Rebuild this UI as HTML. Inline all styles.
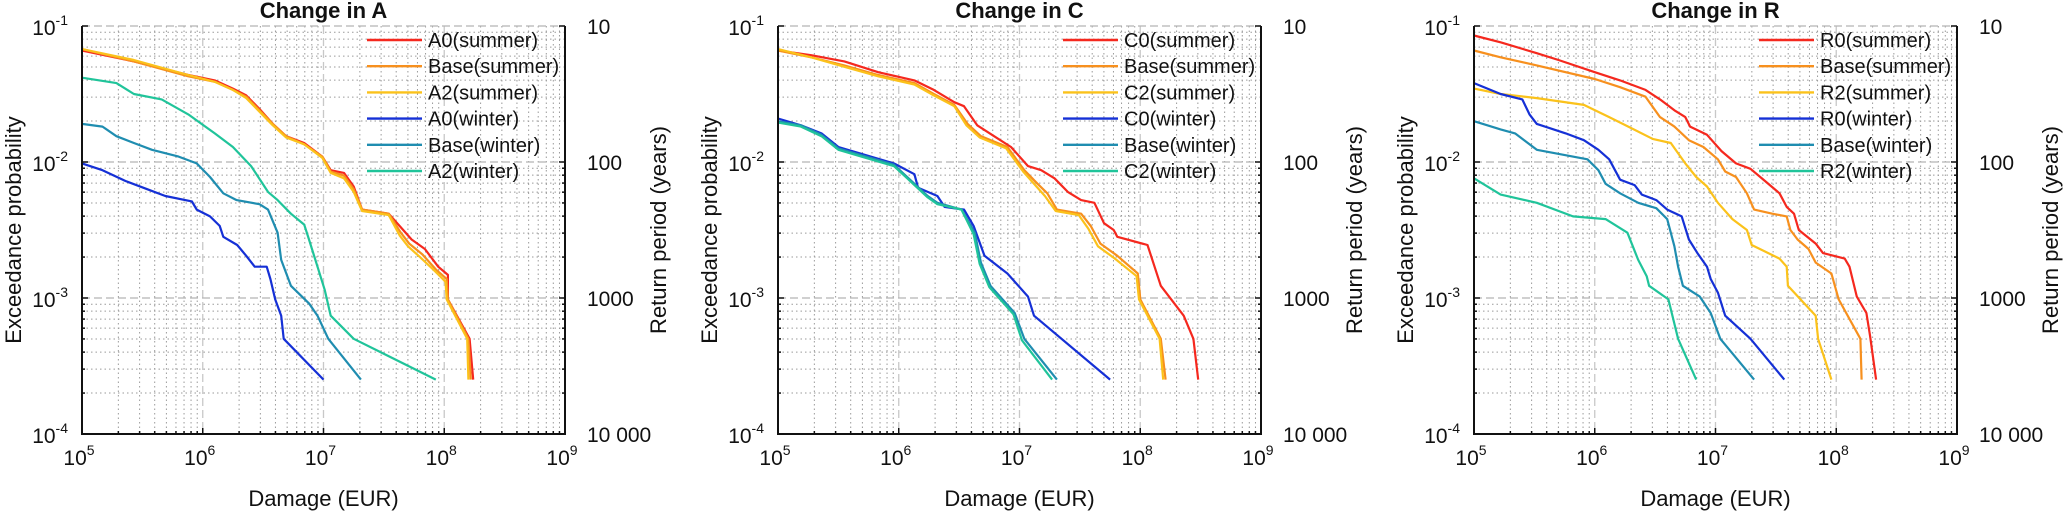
<!DOCTYPE html>
<html><head><meta charset="utf-8"><style>
html,body{margin:0;padding:0;background:#fff;}
svg{display:block;font-family:"Liberation Sans",Arial,sans-serif;}
</style></head><body>
<svg id="chart" width="2067" height="513" viewBox="0 0 2067 513" xmlns="http://www.w3.org/2000/svg"></svg>
<script>
// ---- Data (log10 damage EUR, log10 exceedance probability) ----
const panelTitles = ["Change in A", "Change in C", "Change in R"];
const xTickExps = [5, 6, 7, 8, 9];
const yTickExps = [-1, -2, -3, -4];
const returnLabels = ["10", "100", "1000", "10 000"];
const seriesColors = ["#f5281e", "#f7901e", "#fbc21b", "#1530d6", "#1f8db0", "#20c49a"];
const legendA = ["A0(summer)", "Base(summer)", "A2(summer)", "A0(winter)", "Base(winter)", "A2(winter)"];
const legendC = ["C0(summer)", "Base(summer)", "C2(summer)", "C0(winter)", "Base(winter)", "C2(winter)"];
const legendR = ["R0(summer)", "Base(summer)", "R2(summer)", "R0(winter)", "Base(winter)", "R2(winter)"];

// Panel A
const aS0x = [5,5.43,5.88,6.1,6.25,6.36,6.47,6.58,6.69,6.84,6.99,7.06,7.17,7.25,7.32,7.54,7.66,7.73,7.84,7.95,8.03,8.03,8.21,8.24];
const aS0y = [-1.18,-1.26,-1.36,-1.40,-1.46,-1.51,-1.61,-1.72,-1.81,-1.86,-1.96,-2.06,-2.08,-2.18,-2.35,-2.38,-2.50,-2.57,-2.64,-2.77,-2.83,-3.01,-3.30,-3.60];
const aSBx = [5,5.43,5.88,6.1,6.25,6.36,6.47,6.58,6.69,6.84,6.99,7.06,7.17,7.25,7.32,7.54,7.64,7.71,7.82,7.93,8.02,8.03,8.20,8.22];
const aSBy = [-1.17,-1.26,-1.37,-1.41,-1.47,-1.52,-1.62,-1.72,-1.81,-1.87,-1.96,-2.07,-2.10,-2.20,-2.35,-2.38,-2.52,-2.60,-2.68,-2.79,-2.86,-3.01,-3.30,-3.60];
const aS2x = [5,5.43,5.88,6.1,6.25,6.36,6.47,6.58,6.69,6.84,6.99,7.06,7.17,7.25,7.32,7.54,7.63,7.70,7.80,7.92,8.01,8.02,8.19,8.20];
const aS2y = [-1.17,-1.25,-1.36,-1.41,-1.47,-1.53,-1.63,-1.73,-1.82,-1.87,-1.97,-2.08,-2.12,-2.22,-2.36,-2.39,-2.54,-2.62,-2.70,-2.80,-2.88,-3.01,-3.30,-3.60];
const aW0x = [5,5.17,5.36,5.54,5.69,5.91,5.95,6.06,6.14,6.17,6.285,6.36,6.43,6.53,6.56,6.60,6.65,6.67,7.0];
const aW0y = [-2.01,-2.06,-2.14,-2.20,-2.25,-2.29,-2.35,-2.40,-2.47,-2.55,-2.61,-2.69,-2.77,-2.77,-2.86,-3.01,-3.13,-3.30,-3.60];
const aWBx = [5,5.17,5.285,5.43,5.58,5.80,5.95,6.06,6.17,6.28,6.47,6.54,6.62,6.65,6.73,6.88,6.95,7.04,7.31];
const aWBy = [-1.72,-1.74,-1.81,-1.86,-1.91,-1.96,-2.01,-2.11,-2.23,-2.28,-2.31,-2.35,-2.52,-2.72,-2.91,-3.04,-3.13,-3.30,-3.60];
const aW2x = [5,5.285,5.43,5.66,5.88,6.1,6.25,6.40,6.54,6.62,6.73,6.84,6.88,6.95,7.01,7.06,7.25,7.93];
const aW2y = [-1.38,-1.42,-1.50,-1.54,-1.65,-1.79,-1.89,-2.03,-2.22,-2.28,-2.38,-2.46,-2.57,-2.77,-2.94,-3.13,-3.30,-3.60];

// Panel C
const cS0x = [5,5.275,5.55,5.83,6.13,6.29,6.46,6.54,6.65,6.79,6.93,7.07,7.18,7.29,7.40,7.51,7.62,7.70,7.78,7.81,8.06,8.17,8.36,8.44,8.48];
const cS0y = [-1.18,-1.215,-1.26,-1.34,-1.40,-1.47,-1.56,-1.59,-1.73,-1.81,-1.89,-2.03,-2.06,-2.12,-2.22,-2.28,-2.30,-2.45,-2.50,-2.55,-2.61,-2.91,-3.13,-3.30,-3.60];
const cSBx = [5,5.275,5.55,5.83,6.13,6.29,6.46,6.57,6.68,6.90,7.04,7.15,7.23,7.31,7.51,7.59,7.67,7.81,7.98,8.00,8.17,8.21];
const cSBy = [-1.18,-1.23,-1.29,-1.36,-1.42,-1.50,-1.58,-1.72,-1.81,-1.89,-2.06,-2.16,-2.23,-2.35,-2.38,-2.47,-2.60,-2.69,-2.82,-3.01,-3.30,-3.60];
const cS2x = [5,5.275,5.55,5.83,6.13,6.29,6.46,6.56,6.67,6.89,7.03,7.13,7.21,7.30,7.49,7.57,7.65,7.79,7.97,7.99,8.16,8.19];
const cS2y = [-1.17,-1.23,-1.30,-1.37,-1.43,-1.51,-1.59,-1.73,-1.82,-1.90,-2.07,-2.17,-2.25,-2.36,-2.39,-2.49,-2.62,-2.71,-2.84,-3.01,-3.30,-3.60];
const cW0x = [5,5.19,5.36,5.50,5.69,5.96,6.13,6.16,6.32,6.38,6.54,6.62,6.71,6.90,7.07,7.12,7.75];
const cW0y = [-1.68,-1.73,-1.79,-1.89,-1.94,-2.01,-2.09,-2.19,-2.25,-2.33,-2.35,-2.47,-2.69,-2.82,-2.99,-3.13,-3.60];
const cWBx = [5,5.19,5.36,5.50,5.69,5.96,6.07,6.24,6.32,6.52,6.63,6.68,6.76,6.96,7.04,7.31];
const cWBy = [-1.70,-1.73,-1.80,-1.90,-1.95,-2.02,-2.11,-2.25,-2.30,-2.35,-2.52,-2.74,-2.91,-3.11,-3.30,-3.60];
const cW2x = [5,5.19,5.36,5.50,5.69,5.96,6.07,6.24,6.32,6.52,6.62,6.67,6.75,6.95,7.02,7.27];
const cW2y = [-1.71,-1.74,-1.81,-1.91,-1.96,-2.03,-2.12,-2.26,-2.31,-2.35,-2.53,-2.75,-2.92,-3.12,-3.31,-3.60];

// Panel R
const rS0x = [5.0,5.22,5.52,5.70,6.0,6.21,6.42,6.54,6.66,6.75,6.79,6.93,7.05,7.17,7.29,7.41,7.53,7.59,7.65,7.69,7.83,7.89,8.07,8.11,8.17,8.25,8.28,8.33];
const rS0y = [-1.07,-1.12,-1.20,-1.25,-1.34,-1.40,-1.47,-1.54,-1.62,-1.67,-1.74,-1.80,-1.92,-2.01,-2.05,-2.14,-2.23,-2.33,-2.38,-2.50,-2.60,-2.67,-2.71,-2.77,-2.99,-3.11,-3.28,-3.60];
const rSBx = [5.0,5.22,5.52,6.0,6.21,6.42,6.54,6.66,6.78,6.90,7.02,7.08,7.17,7.26,7.32,7.47,7.59,7.62,7.68,7.77,7.83,7.96,8.02,8.20,8.21];
const rSBy = [-1.18,-1.23,-1.29,-1.39,-1.45,-1.52,-1.67,-1.74,-1.84,-1.89,-1.98,-2.07,-2.11,-2.23,-2.35,-2.38,-2.40,-2.50,-2.57,-2.64,-2.74,-2.82,-3.01,-3.30,-3.60];
const rS2x = [5.0,5.22,5.52,5.91,6.12,6.30,6.48,6.63,6.75,6.84,6.93,7.02,7.14,7.26,7.30,7.53,7.59,7.60,7.83,7.85,7.96];
const rS2y = [-1.46,-1.50,-1.53,-1.58,-1.67,-1.75,-1.83,-1.86,-2.01,-2.11,-2.18,-2.30,-2.42,-2.50,-2.61,-2.71,-2.77,-2.91,-3.13,-3.30,-3.60];
const rW0x = [5.0,5.22,5.40,5.46,5.52,5.76,5.91,6.03,6.12,6.21,6.33,6.39,6.51,6.60,6.72,6.78,6.85,6.93,6.96,7.02,7.08,7.29,7.57];
const rW0y = [-1.42,-1.50,-1.54,-1.65,-1.72,-1.79,-1.84,-1.91,-1.98,-2.13,-2.17,-2.24,-2.28,-2.35,-2.40,-2.57,-2.67,-2.77,-2.86,-2.96,-3.13,-3.30,-3.60];
const rWBx = [5.0,5.22,5.34,5.52,5.94,6.03,6.09,6.21,6.36,6.51,6.60,6.66,6.69,6.73,6.87,6.96,7.04,7.32];
const rWBy = [-1.70,-1.76,-1.79,-1.91,-1.98,-2.06,-2.16,-2.23,-2.30,-2.34,-2.42,-2.62,-2.77,-2.91,-2.99,-3.11,-3.30,-3.60];
const rW2x = [5.0,5.22,5.52,5.82,6.09,6.27,6.36,6.43,6.45,6.61,6.69,6.84];
const rW2y = [-2.12,-2.24,-2.30,-2.40,-2.42,-2.52,-2.72,-2.84,-2.91,-3.01,-3.30,-3.60];

const panels = [
  {left:82, title:panelTitles[0], legend:legendA, xs:[aS0x,aSBx,aS2x,aW0x,aWBx,aW2x], ys:[aS0y,aSBy,aS2y,aW0y,aWBy,aW2y]},
  {left:778, title:panelTitles[1], legend:legendC, xs:[cS0x,cSBx,cS2x,cW0x,cWBx,cW2x], ys:[cS0y,cSBy,cS2y,cW0y,cWBy,cW2y]},
  {left:1474, title:panelTitles[2], legend:legendR, xs:[rS0x,rSBx,rS2x,rW0x,rWBx,rW2x], ys:[rS0y,rSBy,rS2y,rW0y,rWBy,rW2y]}
];

const NS = "http://www.w3.org/2000/svg";
const svg = document.getElementById("chart");
const W = 483, TOP = 26, BOT = 434, H = BOT - TOP;
function mk(tag, attrs, parent){const e=document.createElementNS(NS,tag);for(const k in attrs)e.setAttribute(k,attrs[k]);(parent||svg).appendChild(e);return e;}

panels.forEach((p, pi) => {
  const L = p.left, R = L + W;
  const xs = v => L + (v - 5) / 4 * W;
  const ys = v => TOP + (-1 - v) / 3 * H;
  const g = mk("g", {});
  
  
  // minor grid
  const grid = mk("g", {}, g);
  
  
  for (let d = 5; d < 9; d++) for (let m = 2; m <= 9; m++) {
    const x = xs(d + Math.log10(m));
    mk("line", {x1:x, y1:TOP, x2:x, y2:BOT, stroke:"#9a9a9a", "stroke-width":1, "stroke-dasharray":"1.5,3"}, grid);
  }
  for (let d = -2; d >= -4; d--) for (let m = 2; m <= 9; m++) {
    const y = ys(d + Math.log10(m));
    mk("line", {x1:L, y1:y, x2:R, y2:y, stroke:"#9a9a9a", "stroke-width":1, "stroke-dasharray":"1.5,3"}, grid);
  }
  xTickExps.forEach(e => { if (e>5 && e<9) mk("line", {x1:xs(e), y1:TOP, x2:xs(e), y2:BOT, stroke:"#c8c8c8", "stroke-width":1.3, "stroke-dasharray":"8,4"}, grid); });
  yTickExps.forEach(e => { if (e>-4) mk("line", {x1:L, y1:ys(e), x2:R, y2:ys(e), stroke:"#b5b5b5", "stroke-width":1.3, "stroke-dasharray":"8,4"}, grid); });
  // series
  p.xs.forEach((sx, si) => {
    const pts = sx.map((v, i) => xs(v).toFixed(1) + "," + ys(p.ys[si][i]).toFixed(1)).join(" ");
    const pl = mk("polyline", {points:pts, fill:"none", stroke:seriesColors[si], "stroke-width":2.2, "stroke-linejoin":"round"}, g);
    
    
  });
  // axes
  const ax = mk("g", {}, g);
  
  
  mk("path", {d:`M${L},${TOP}V${BOT}H${R}V${TOP}`, fill:"none", stroke:"#111", "stroke-width":2}, ax);
  for (let d = 5; d < 9; d++) for (let m = 1; m <= 9; m++) {
    const x = xs(d + Math.log10(m)); const len = m===1?6:3;
    mk("line", {x1:x, y1:BOT, x2:x, y2:BOT-len, stroke:"#111", "stroke-width":1.5}, ax);
  }
  for (let d = -1; d >= -4; d--) for (let m = 1; m <= 9; m++) {
    if (d===-1 && m>1) continue;
    const y = ys(d - 1 + Math.log10(m) + (m===1?1:0));
    const yy = m===1 ? ys(d) : ys(d-1+Math.log10(m));
    if (d===-4 && m>1) continue;
    const len = m===1?6:3;
    mk("line", {x1:L, y1:yy, x2:L+len, y2:yy, stroke:"#111", "stroke-width":1.5}, ax);
    mk("line", {x1:R, y1:yy, x2:R-len, y2:yy, stroke:"#111", "stroke-width":1.5}, ax);
  }
  // x tick labels
  xTickExps.forEach(e => {
    const t = mk("text", {x:xs(e)-3, y:465, "font-size":21, "text-anchor":"middle", fill:"#111"}, g);
    
    
    t.textContent = "10";
    const s = mk("tspan", {dy:-10, "font-size":14}, t); s.textContent = String(e);
  });
  // y tick labels
  yTickExps.forEach(e => {
    const t = mk("text", {x:L-14, y:ys(e)+9, "font-size":21, "text-anchor":"end", fill:"#111"}, g);
    
    
    t.textContent = "10";
    const s = mk("tspan", {dy:-10, "font-size":14}, t); s.textContent = String(e);
  });
  // right labels
  returnLabels.forEach((lab, i) => {
    const t = mk("text", {x:R+22, y:ys(yTickExps[i])+8, "font-size":21, fill:"#111"}, g);
    
    
    t.textContent = lab;
  });
  // titles
  const tt = mk("text", {x:L+W/2, y:18, "font-size":22, "font-weight":"bold", "text-anchor":"middle", fill:"#111"}, g);
  
  
  tt.textContent = p.title;
  const xt = mk("text", {x:L+W/2, y:506, "font-size":22, "text-anchor":"middle", fill:"#111"}, g);
  
  
  xt.textContent = "Damage (EUR)";
  const yt = mk("text", {x:0, y:0, "font-size":22, "text-anchor":"middle", fill:"#111", transform:`translate(${L-61},${TOP+H/2}) rotate(-90)`}, g);
  
  
  yt.textContent = "Exceedance probability";
  const rt = mk("text", {x:0, y:0, "font-size":22, "text-anchor":"middle", fill:"#111", transform:`translate(${R+101},${TOP+H/2}) rotate(-90)`}, g);
  
  
  rt.textContent = "Return period (years)";
  // legend
  const lg = mk("g", {}, g);
  
  
  p.legend.forEach((lab, i) => {
    const y = 40 + i * 26.2;
    const le = mk("g", {}, lg);
    
    
    mk("line", {x1:L+285, y1:y, x2:L+340, y2:y, stroke:seriesColors[i], "stroke-width":2.4}, le);
    const t = mk("text", {x:L+346, y:y+7, "font-size":20, fill:"#111"}, le);
    t.textContent = lab;
  });
});
</script>
</body></html>
